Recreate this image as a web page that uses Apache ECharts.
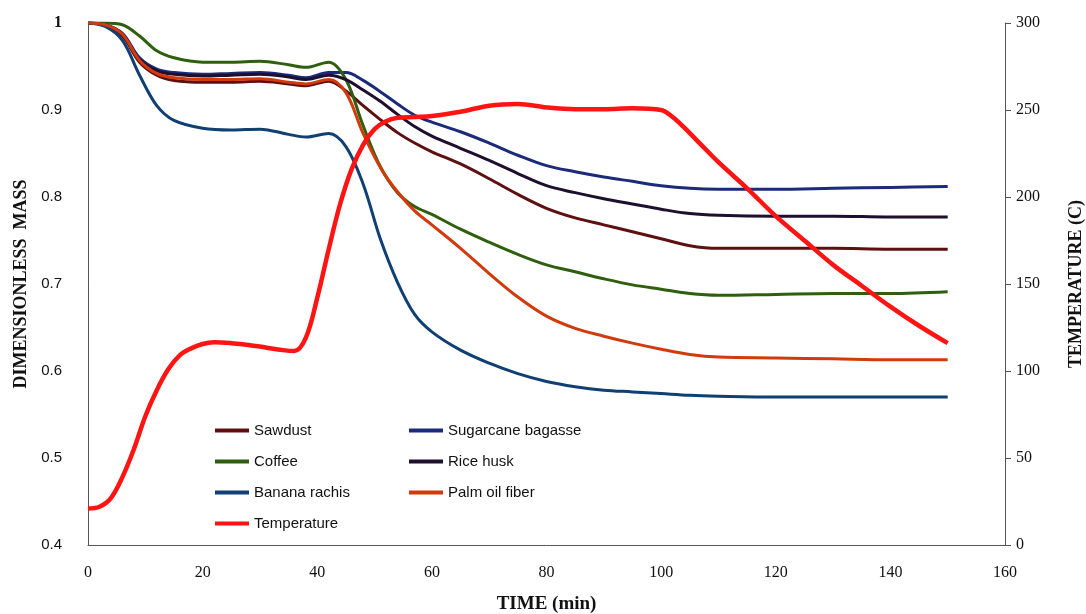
<!DOCTYPE html>
<html>
<head>
<meta charset="utf-8">
<script src="https://cdn.jsdelivr.net/npm/echarts@6/dist/echarts.min.js"></script>
<style>
  html, body { margin: 0; padding: 0; background: #fff; }
  #chart { width: 1086px; height: 614px; }
</style>
</head>
<body>
<div id="chart"></div>
<script>
// time grid (min) for the mass curves
const massTime = [0, 3, 6, 9, 12, 15, 20, 25, 30, 35, 38, 42, 45, 48, 51, 54, 57, 60, 65, 70, 75, 80, 85, 90, 95, 100, 105, 110, 120, 130, 140, 150];

const sawdust = [1.0, 0.997, 0.985, 0.955, 0.940, 0.934, 0.932, 0.932, 0.933, 0.930, 0.928, 0.933, 0.922, 0.905, 0.889, 0.874, 0.862, 0.852, 0.838, 0.821, 0.803, 0.787, 0.776, 0.768, 0.760, 0.752, 0.744, 0.741, 0.741, 0.741, 0.740, 0.740];
const sugarcane = [1.0, 0.998, 0.988, 0.960, 0.947, 0.943, 0.941, 0.942, 0.943, 0.940, 0.937, 0.943, 0.943, 0.934, 0.921, 0.907, 0.894, 0.886, 0.875, 0.862, 0.848, 0.836, 0.829, 0.823, 0.818, 0.813, 0.810, 0.809, 0.809, 0.810, 0.811, 0.812];
const coffee = [1.0, 1.0, 0.998, 0.985, 0.968, 0.960, 0.955, 0.955, 0.956, 0.952, 0.949, 0.955, 0.935, 0.882, 0.835, 0.805, 0.789, 0.780, 0.763, 0.748, 0.734, 0.722, 0.714, 0.706, 0.699, 0.694, 0.689, 0.687, 0.688, 0.689, 0.689, 0.691];
const riceHusk = [1.0, 0.998, 0.987, 0.958, 0.945, 0.941, 0.939, 0.940, 0.941, 0.938, 0.935, 0.940, 0.935, 0.923, 0.910, 0.895, 0.881, 0.870, 0.856, 0.842, 0.827, 0.813, 0.805, 0.798, 0.792, 0.786, 0.781, 0.779, 0.778, 0.778, 0.777, 0.777];
const banana = [1.0, 0.996, 0.980, 0.940, 0.905, 0.888, 0.879, 0.877, 0.878, 0.872, 0.869, 0.873, 0.858, 0.815, 0.752, 0.702, 0.665, 0.645, 0.624, 0.609, 0.597, 0.588, 0.582, 0.578, 0.576, 0.574, 0.572, 0.571, 0.570, 0.570, 0.570, 0.570];
const palmFiber = [1.0, 0.998, 0.987, 0.957, 0.942, 0.937, 0.935, 0.935, 0.936, 0.932, 0.930, 0.935, 0.920, 0.873, 0.834, 0.806, 0.784, 0.768, 0.741, 0.712, 0.685, 0.663, 0.649, 0.640, 0.632, 0.625, 0.619, 0.616, 0.615, 0.614, 0.613, 0.613];

// temperature (C) on the right axis
const tempTime = [0, 2, 4, 6, 8, 10, 12, 14, 16, 18, 20, 22, 25, 28, 31, 34, 36, 38, 40, 42, 44, 46, 48, 50, 52, 54, 57, 60, 65, 70, 75, 80, 85, 90, 95, 100, 102, 104, 107, 110, 115, 120, 125, 130, 135, 140, 145, 150];
const temperature = [21, 22, 27, 39, 55, 74, 89, 101, 109, 113, 115.5, 116.5, 116, 115, 113.5, 112, 111.5, 119, 142, 170, 196, 216, 230, 239, 243.5, 245.5, 246, 246.5, 249, 252.5, 253.5, 251.5, 250.5, 250.5, 251, 250, 246, 240, 230, 220, 205, 189, 175, 161, 149, 137, 126, 116];

const names = ['Sawdust', 'Sugarcane bagasse', 'Coffee', 'Rice husk', 'Banana rachis', 'Palm oil fiber', 'Temperature'];
const colors = ['#5e1010', '#1b2a7a', '#2f5f0e', '#1e0f2e', '#0f3f73', '#d23a0c', '#ff1414'];

const pair = (xs, ys) => ys.map((v, i) => [xs[i], v]);
const massSets = [sawdust, sugarcane, coffee, riceHusk, banana, palmFiber];

const series = massSets.map((d, i) => ({
  name: names[i],
  type: 'line',
  yAxisIndex: 0,
  smooth: 0.35,
  symbol: 'none',
  data: pair(massTime, d),
  lineStyle: { color: colors[i], width: 3 },
  itemStyle: { color: colors[i] }
}));
series.push({
  name: names[6],
  type: 'line',
  yAxisIndex: 1,
  smooth: 0.35,
  symbol: 'none',
  z: 5,
  data: pair(tempTime, temperature),
  lineStyle: { color: colors[6], width: 4.5 },
  itemStyle: { color: colors[6] }
});

const legendText = { fontFamily: 'Liberation Sans', fontSize: 15, color: '#111' };
const serif = 'Liberation Serif';
const legendBase = {
  orient: 'vertical', top: 418, itemWidth: 34, itemHeight: 4, itemGap: 16,
  icon: 'rect', textStyle: legendText
};

const chart = echarts.init(document.getElementById('chart'), null, { renderer: 'canvas' });
chart.setOption({
  animation: false,
  backgroundColor: '#fff',
  grid: { left: 88, right: 81, top: 23, bottom: 69, containLabel: false, outerBoundsMode: 'none' },
  legend: [
    Object.assign({}, legendBase, { left: 210, data: ['Sawdust', 'Coffee', 'Banana rachis', 'Temperature'] }),
    Object.assign({}, legendBase, { left: 404, data: ['Sugarcane bagasse', 'Rice husk', 'Palm oil fiber'] })
  ],
  xAxis: {
    type: 'value', min: 0, max: 160, interval: 20,
    name: 'TIME (min)', nameLocation: 'middle', nameGap: 50,
    nameTextStyle: { fontFamily: serif, fontWeight: 'bold', fontSize: 19, color: '#111' },
    axisLine: { lineStyle: { color: '#555', width: 1 } },
    axisTick: { show: false },
    splitLine: { show: false },
    axisLabel: { fontFamily: serif, fontSize: 16, color: '#111', margin: 20 }
  },
  yAxis: [
    {
      type: 'value', min: 0.4, max: 1, interval: 0.1, position: 'left',
      name: 'DIMENSIONLESS  MASS', nameLocation: 'middle', nameGap: 58, nameRotate: 90,
      nameTextStyle: { fontFamily: serif, fontWeight: 'bold', fontSize: 18, color: '#111' },
      axisLine: { show: true, lineStyle: { color: '#555', width: 1 } },
      axisTick: { show: false },
      splitLine: { show: false },
      axisLabel: {
        fontFamily: 'Liberation Sans', fontSize: 15, color: '#111', margin: 26,
        formatter: v => (Math.abs(v - 1) < 1e-9 ? '{one|1}' : v.toFixed(1)),
        rich: { one: { fontFamily: serif, fontWeight: 'bold', fontSize: 16, color: '#111' } }
      }
    },
    {
      type: 'value', min: 0, max: 300, interval: 50, position: 'right',
      name: 'TEMPERATURE (C)', nameLocation: 'middle', nameGap: 62, nameRotate: 90,
      nameTextStyle: { fontFamily: serif, fontWeight: 'bold', fontSize: 18, color: '#111' },
      axisLine: { show: true, lineStyle: { color: '#555', width: 1 } },
      axisTick: { show: true, inside: false, length: 6, lineStyle: { color: '#555' } },
      splitLine: { show: false },
      axisLabel: { fontFamily: serif, fontSize: 16, color: '#111', margin: 11 }
    }
  ],
  series: series
});
</script>
</body>
</html>
